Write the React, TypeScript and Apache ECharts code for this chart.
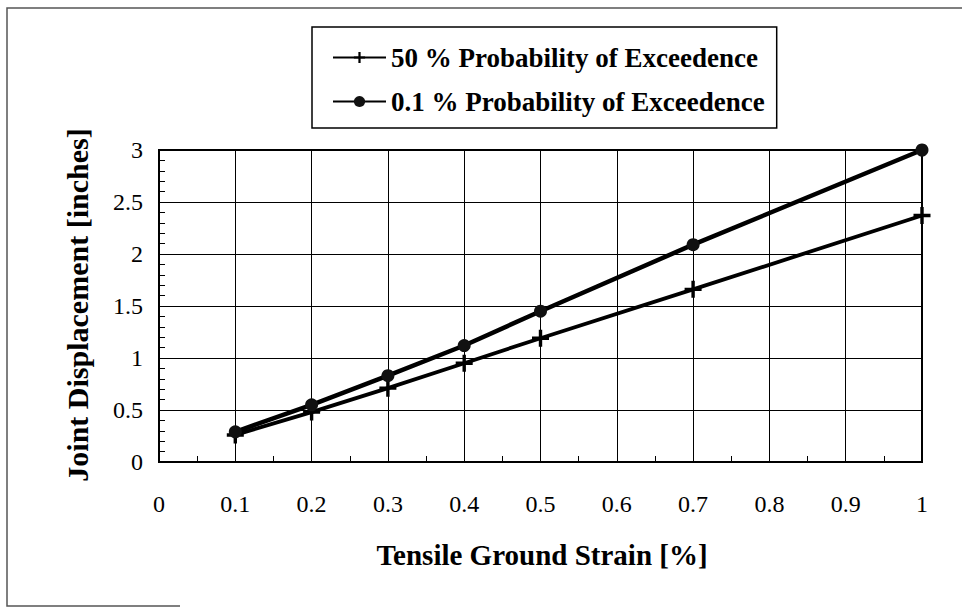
import React, { useEffect, useRef } from "react";
import * as echarts from "echarts";

const strain = [0.1, 0.2, 0.3, 0.4, 0.5, 0.7, 1.0];
const poe50 = [0.26, 0.48, 0.71, 0.95, 1.19, 1.66, 2.37];
const poe01 = [0.29, 0.55, 0.83, 1.12, 1.45, 2.09, 3.0];
const seriesNames = ["50 % Probability of Exceedence", "0.1 % Probability of Exceedence"];
const xTitle = "Tensile Ground Strain [%]";
const yTitle = "Joint Displacement [inches]";

const FONT = "Liberation Serif";
const PLUS = "path://M-1.6,-8 L1.6,-8 L1.6,-1.6 L8,-1.6 L8,1.6 L1.6,1.6 L1.6,8 L-1.6,8 L-1.6,1.6 L-8,1.6 L-8,-1.6 L-1.6,-1.6 Z";

export default function App() {
  const ref = useRef<HTMLDivElement>(null);
  useEffect(() => {
    document.body.style.margin = "0";
    const chart = echarts.init(ref.current!, null, { renderer: "svg" });
    const d1 = strain.map((x, i) => [x, poe50[i]]);
    const d2 = strain.map((x, i) => [x, poe01[i]]);
    chart.setOption({
      animation: false,
      backgroundColor: "#fff",
      grid: {
        left: 159,
        right: 40,
        top: 150,
        bottom: 151,
        show: true,
        borderColor: "#000",
        borderWidth: 2,
      },
      legend: {
        orient: "vertical",
        left: 312,
        top: 27,
        padding: [17, 12, 13, 20],
        itemGap: 17,
        itemWidth: 53,
        itemHeight: 14,
        borderColor: "#000",
        borderWidth: 1.5,
        data: seriesNames,
        textStyle: { fontFamily: FONT, fontWeight: 700, fontSize: 27, color: "#000" },
      },
      xAxis: {
        type: "value",
        min: 0,
        max: 1,
        interval: 0.1,
        axisLine: { show: true, lineStyle: { color: "#000", width: 2 } },
        axisTick: { show: true, inside: true, length: 1, lineStyle: { color: "#000" } },
        minorTick: { show: true, splitNumber: 2, length: 6, lineStyle: { color: "#000", width: 1 } },
        splitLine: { show: true, lineStyle: { color: "#000", width: 1 } },
        axisLabel: {
          margin: 30,
          fontFamily: FONT,
          fontSize: 24,
          color: "#000",
          formatter: (v: number) => (v === 0 ? "0" : v === 1 ? "1" : v.toFixed(1)),
        },
      },
      yAxis: {
        type: "value",
        min: 0,
        max: 3,
        interval: 0.5,
        axisLine: { show: true, lineStyle: { color: "#000", width: 2 } },
        axisTick: { show: true, inside: true, length: 1, lineStyle: { color: "#000" } },
        minorTick: { show: true, splitNumber: 5, length: 6, lineStyle: { color: "#000", width: 1 } },
        splitLine: { show: true, lineStyle: { color: "#000", width: 1 } },
        axisLabel: {
          margin: 16,
          fontFamily: FONT,
          fontSize: 24,
          color: "#000",
        },
      },
      graphic: [
        {
          type: "text",
          x: 77,
          y: 305,
          rotation: Math.PI / 2,
          style: {
            text: yTitle,
            fontFamily: FONT,
            fontWeight: 700,
            fontSize: 30,
            fill: "#000",
            textAlign: "center",
            textVerticalAlign: "middle",
          },
        },
        {
          type: "text",
          x: 542,
          y: 555,
          style: {
            text: xTitle,
            fontFamily: FONT,
            fontWeight: 700,
            fontSize: 29,
            fill: "#000",
            textAlign: "center",
            textVerticalAlign: "middle",
          },
        },
        {
          type: "polyline",
          shape: { points: [[962, 8], [7, 8], [7, 606], [180, 606]] },
          style: { stroke: "#555", lineWidth: 1.5, fill: "none" },
        },
      ],
      series: [
        {
          name: seriesNames[0],
          type: "line",
          data: d1,
          symbol: PLUS,
          symbolSize: 17,
          showSymbol: true,
          itemStyle: { color: "#000" },
          lineStyle: { color: "#000", width: 3.8 },
        },
        {
          name: seriesNames[1],
          type: "line",
          data: d2,
          symbol: "circle",
          symbolSize: 13,
          showSymbol: true,
          itemStyle: { color: "#111" },
          lineStyle: { color: "#000", width: 4.5 },
        },
      ],
    });
    return () => chart.dispose();
  }, []);
  return <div ref={ref} style={{ width: 962, height: 613 }} />;
}
